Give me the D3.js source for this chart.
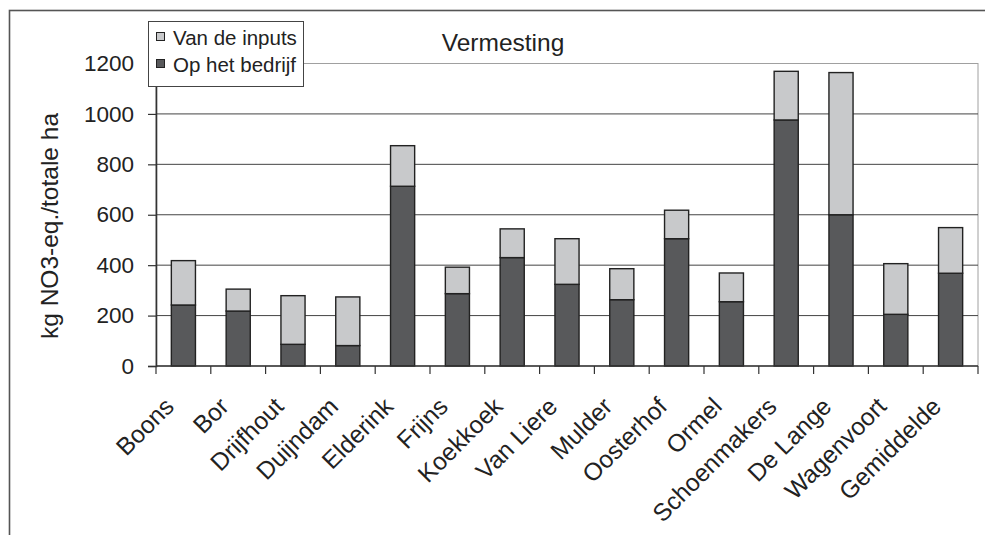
<!DOCTYPE html>
<html>
<head>
<meta charset="utf-8">
<script src="https://cdn.jsdelivr.net/npm/d3@7"></script>
<style>
  body { margin: 0; background: #fff; }
  svg { display: block; font-family: 'Liberation Sans', Arial, sans-serif; }
</style>
</head>
<body>
<div id="chart"></div>
<script>
// data
const categories = ['Boons', 'Bor', 'Drijfhout', 'Duijndam', 'Elderink', 'Frijns', 'Koekkoek',
  'Van Liere', 'Mulder', 'Oosterhof', 'Ormel', 'Schoenmakers', 'De Lange', 'Wagenvoort', 'Gemiddelde']
const opHetBedrijf = [242, 218, 86, 81, 713, 287, 430, 324, 263, 505, 255, 976, 600, 205, 368]
const vanDeInputs = [176, 87, 193, 193, 161, 105, 114, 181, 123, 113, 114, 193, 564, 201, 181]
const yTicks = [0, 200, 400, 600, 800, 1000, 1200]
const seriesNames = ['Op het bedrijf', 'Van de inputs']
const seriesColors = ['#58595b', '#c8c9cb']

function drawChart (container) {
  const fullWidth = 985
  const fullHeight = 535
  const plot = { left: 156, right: 978, top: 63.5, bottom: 366 }

  const rows = categories.map((c, i) => ({
    key: c, 'Op het bedrijf': opHetBedrijf[i], 'Van de inputs': vanDeInputs[i]
  }))
  const stacked = d3.stack().keys(seriesNames)(rows)

  const xScale = d3.scaleBand()
    .domain(categories)
    .range([plot.left, plot.right])
    .paddingInner(0.56)
    .paddingOuter(0.28)
  const edges = d3.scaleBand()
    .domain(categories)
    .range([plot.left, plot.right])
  const yScale = d3.scaleLinear()
    .domain([0, 1200])
    .range([plot.bottom, plot.top])

  const svg = d3.select(container)
    .append('svg')
      .attr('width', fullWidth)
      .attr('height', fullHeight)

  svg.append('rect')
    .attr('width', fullWidth).attr('height', fullHeight).attr('fill', '#fff')

  // outer frame (runs off the page on the right and bottom)
  svg.append('rect')
    .attr('x', 9.5).attr('y', 10.5)
    .attr('width', 1000).attr('height', 600)
    .attr('fill', 'none').attr('stroke', '#555').attr('stroke-width', 1.6)

  // plot area border
  svg.append('rect')
    .attr('x', plot.left).attr('y', plot.top)
    .attr('width', plot.right - plot.left).attr('height', plot.bottom - plot.top)
    .attr('fill', 'none').attr('stroke', '#a0a0a0').attr('stroke-width', 1)

  // gridlines
  svg.append('g')
    .selectAll('line')
    .data(yTicks.filter(d => d > 0))
    .enter().append('line')
      .attr('x1', plot.left).attr('x2', plot.right)
      .attr('y1', d => yScale(d)).attr('y2', d => yScale(d))
      .attr('stroke', d => d === 1200 ? '#a0a0a0' : '#444')
      .attr('stroke-width', 1)

  // bars
  svg.append('g')
    .selectAll('g')
    .data(stacked)
    .enter().append('g')
      .attr('fill', (d, i) => seriesColors[i])
    .selectAll('rect')
    .data(d => d)
    .enter().append('rect')
      .attr('x', d => xScale(d.data.key))
      .attr('y', d => yScale(d[1]))
      .attr('width', xScale.bandwidth())
      .attr('height', d => yScale(d[0]) - yScale(d[1]))
      .attr('stroke', '#222')
      .attr('stroke-width', 1.4)

  // y axis
  const yAxis = d3.axisLeft(yScale)
    .tickValues(yTicks)
    .tickFormat(d3.format('d'))
    .tickSize(8)
    .tickPadding(14)
  const yg = svg.append('g')
    .attr('transform', `translate(${plot.left}, 0)`)
    .call(yAxis)
  yg.select('.domain').attr('stroke', '#333').attr('stroke-width', 1.6)
  yg.selectAll('.tick line').attr('stroke', '#333').attr('stroke-width', 1.2)
  yg.selectAll('text')
    .attr('font-size', 22.5)
    .attr('font-family', 'Liberation Sans, Arial, sans-serif')
    .attr('fill', '#222')

  // x axis: ticks on category boundaries
  const xg = svg.append('g')
    .attr('transform', `translate(0, ${plot.bottom})`)
  xg.append('line')
    .attr('x1', plot.left).attr('x2', plot.right)
    .attr('stroke', '#333').attr('stroke-width', 1.6)
  xg.selectAll('.xtick')
    .data(categories.map(c => edges(c)).concat([plot.right]))
    .enter().append('line')
      .attr('class', 'xtick')
      .attr('x1', d => d).attr('x2', d => d)
      .attr('y1', 0).attr('y2', 8)
      .attr('stroke', '#333').attr('stroke-width', 1.2)

  svg.append('g')
    .selectAll('text')
    .data(categories)
    .enter().append('text')
      .attr('transform', d => `translate(${edges(d) + edges.bandwidth() / 2 - 8}, 408) rotate(-45)`)
      .attr('text-anchor', 'end')
      .attr('font-size', 24.5)
      .attr('fill', '#222')
      .text(d => d)

  // y axis title
  svg.append('text')
    .attr('transform', 'translate(58, 226) rotate(-90)')
    .attr('text-anchor', 'middle')
    .attr('font-size', 24.5)
    .attr('fill', '#222')
    .text('kg NO3-eq./totale ha')

  // chart title
  svg.append('text')
    .attr('x', 503).attr('y', 51)
    .attr('text-anchor', 'middle')
    .attr('font-size', 24.5)
    .attr('fill', '#222')
    .text('Vermesting')

  // legend (white box on top of the axis)
  const legend = svg.append('g')
  legend.append('rect')
    .attr('x', 148.5).attr('y', 21.5).attr('width', 155).attr('height', 65)
    .attr('fill', '#fff').attr('stroke', '#444').attr('stroke-width', 1)
  const items = [
    { name: 'Van de inputs', color: seriesColors[1], y: 45 },
    { name: 'Op het bedrijf', color: seriesColors[0], y: 72 }
  ]
  legend.selectAll('rect.sw')
    .data(items)
    .enter().append('rect')
      .attr('class', 'sw')
      .attr('x', 156.5).attr('y', d => d.y - 12.5)
      .attr('width', 8).attr('height', 8)
      .attr('fill', d => d.color)
      .attr('stroke', '#222').attr('stroke-width', 1)
  legend.selectAll('text')
    .data(items)
    .enter().append('text')
      .attr('x', 173).attr('y', d => d.y)
      .attr('font-size', 20.5)
      .attr('fill', '#222')
      .text(d => d.name)

  return svg
}

drawChart('#chart')
</script>
</body>
</html>
